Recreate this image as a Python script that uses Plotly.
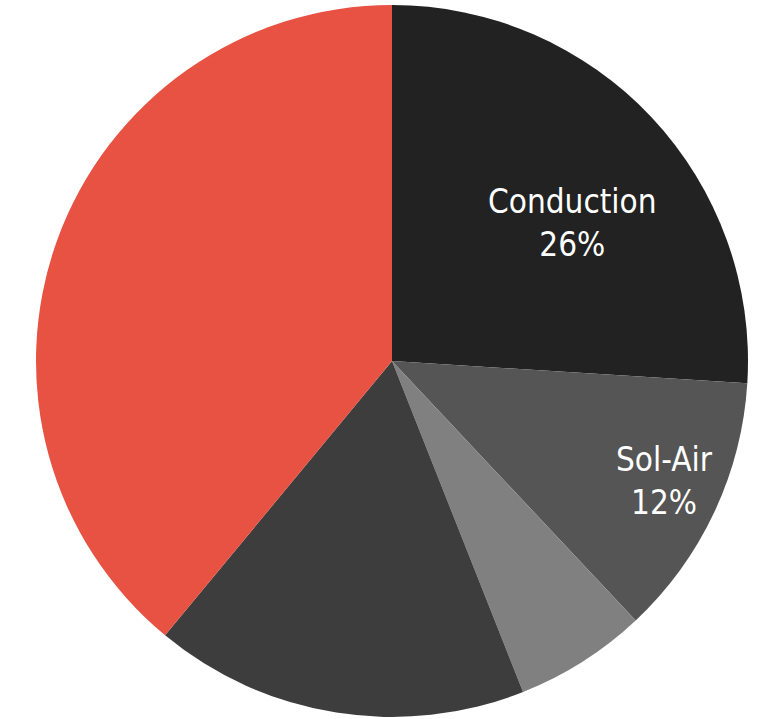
import plotly.graph_objects as go

# Cooling load breakdown (share of total, %)
categories = ["Conduction", "Sol-Air", "Infiltration", "Internal Gains", "Solar Gain"]
shares = [26, 12, 6, 17, 39]
colors = ["#222222", "#555555", "#808080", "#3d3d3d", "#e85242"]
labelled = ["Conduction", "Sol-Air"]

W, H = 775, 719

fig = go.Figure(
    go.Pie(
        labels=categories,
        values=shares,
        sort=False,
        direction="clockwise",
        rotation=0,
        marker=dict(colors=colors, line=dict(width=0)),
        textinfo="none",
        hoverinfo="label+percent",
        showlegend=False,
        domain=dict(x=[36 / W, 748 / W], y=[1 - 717 / H, 1 - 5 / H]),
    )
)

label_pos = {"Conduction": (572 / W, 1 - 223 / H), "Sol-Air": (664 / W, 1 - 481 / H)}
for name in labelled:
    i = categories.index(name)
    x, y = label_pos[name]
    fig.add_annotation(
        x=x, y=y, xref="paper", yref="paper",
        xanchor="center", yanchor="middle",
        text=f"{name}<br>{shares[i]}%",
        showarrow=False,
        font=dict(family="DejaVu Sans Condensed, Liberation Sans Narrow, sans-serif", size=33, color="white"),
        align="center",
    )

fig.update_layout(
    width=W, height=H,
    margin=dict(l=0, r=0, t=0, b=0),
    paper_bgcolor="white",
    plot_bgcolor="white",
)

fig.write_html("out.html")
